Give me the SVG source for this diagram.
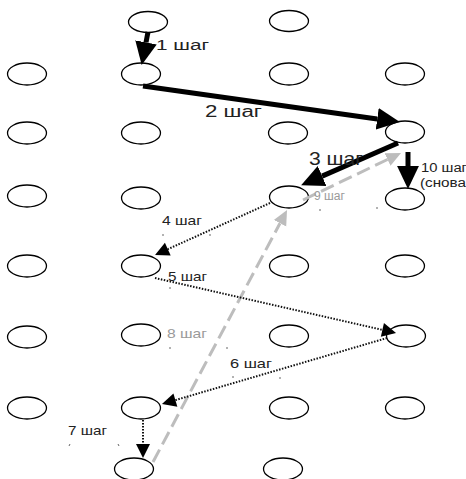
<svg xmlns="http://www.w3.org/2000/svg" width="466" height="479" viewBox="0 0 466 479">
  <style>
    .node ellipse { fill: #fff; stroke: #000; stroke-width: 1.3; }
    .thick { stroke: #000; stroke-width: 5; fill: none; }
    .dot { stroke: #111; stroke-width: 2; stroke-dasharray: 1.5 1.5; fill: none; }
    .dash { stroke: #bdbdbd; stroke-width: 3; stroke-dasharray: 14 6; fill: none; }
    .lbl { font-family: "Liberation Sans", Arial, sans-serif; fill: #222; }
    .grey { fill: #9a9a9a; }
    .tick { stroke: #666; stroke-width: 1; }
  </style>
  <defs>
    <marker id="headBig" markerUnits="userSpaceOnUse" markerWidth="24" markerHeight="24" viewBox="0 -11 22 22" refX="0" refY="0" orient="auto">
      <path d="M0,-10 L21,0 L0,10 Z" fill="#000"/>
    </marker>
    <marker id="headSmall" markerUnits="userSpaceOnUse" markerWidth="16" markerHeight="16" viewBox="0 -8 15 16" refX="0" refY="0" orient="auto">
      <path d="M0,-7 L14,0 L0,7 Z" fill="#000"/>
    </marker>
    <marker id="headGrey" markerUnits="userSpaceOnUse" markerWidth="16" markerHeight="16" viewBox="0 -8 16 16" refX="0" refY="0" orient="auto">
      <path d="M0,-7 L15,0 L0,7 Z" fill="#bdbdbd"/>
    </marker>
  </defs>

  <!-- grid of points -->
  <g id="n-top-1" class="node"><ellipse cx="148" cy="22" rx="19.5" ry="10.5"/></g>
  <g id="n-top-2" class="node"><ellipse cx="289" cy="21" rx="19.5" ry="10.5"/></g>

  <g id="n-1-1" class="node"><ellipse cx="27" cy="74" rx="19.5" ry="11"/></g>
  <g id="n-1-2" class="node"><ellipse cx="141" cy="74" rx="19.5" ry="11"/></g>
  <g id="n-1-3" class="node"><ellipse cx="289" cy="74" rx="19.5" ry="11"/></g>
  <g id="n-1-4" class="node"><ellipse cx="405" cy="74" rx="19.5" ry="11"/></g>

  <g id="n-2-1" class="node"><ellipse cx="27" cy="133" rx="19.5" ry="11"/></g>
  <g id="n-2-2" class="node"><ellipse cx="141" cy="133" rx="19.5" ry="11"/></g>
  <g id="n-2-3" class="node"><ellipse cx="288" cy="133" rx="19.5" ry="11"/></g>
  <g id="n-2-4" class="node"><ellipse cx="405" cy="132" rx="19.5" ry="11"/></g>

  <g id="n-3-1" class="node"><ellipse cx="27" cy="196" rx="19.5" ry="11"/></g>
  <g id="n-3-2" class="node"><ellipse cx="141" cy="198" rx="19.5" ry="11"/></g>
  <g id="n-3-3" class="node"><ellipse cx="289" cy="197" rx="19.5" ry="11"/></g>
  <g id="n-3-4" class="node"><ellipse cx="405" cy="199" rx="19.5" ry="11"/></g>

  <g id="n-4-1" class="node"><ellipse cx="27" cy="266" rx="19.5" ry="11"/></g>
  <g id="n-4-2" class="node"><ellipse cx="141" cy="266" rx="19.5" ry="11"/></g>
  <g id="n-4-3" class="node"><ellipse cx="289" cy="266" rx="19.5" ry="11"/></g>
  <g id="n-4-4" class="node"><ellipse cx="405" cy="266" rx="19.5" ry="11"/></g>

  <g id="n-5-1" class="node"><ellipse cx="27" cy="337" rx="19.5" ry="11"/></g>
  <g id="n-5-2" class="node"><ellipse cx="141" cy="335" rx="19.5" ry="11"/></g>
  <g id="n-5-3" class="node"><ellipse cx="289" cy="336" rx="19.5" ry="11"/></g>
  <g id="n-5-4" class="node"><ellipse cx="406" cy="336" rx="19.5" ry="11"/></g>

  <g id="n-6-1" class="node"><ellipse cx="27" cy="408" rx="19.5" ry="11"/></g>
  <g id="n-6-2" class="node"><ellipse cx="141" cy="408" rx="19.5" ry="11"/></g>
  <g id="n-6-3" class="node"><ellipse cx="289" cy="408" rx="19.5" ry="11"/></g>
  <g id="n-6-4" class="node"><ellipse cx="405" cy="408" rx="19.5" ry="11"/></g>

  <g id="n-bot-1" class="node"><ellipse cx="134" cy="469" rx="19.5" ry="11"/></g>
  <g id="n-bot-2" class="node"><ellipse cx="283" cy="469" rx="19.5" ry="11"/></g>

  <!-- moves -->
  <g id="connectors">
    <line class="dash" x1="153" y1="462" x2="280" y2="223.2" marker-end="url(#headGrey)"/>
    <line class="dash" x1="303" y1="200" x2="387.5" y2="159.5" marker-end="url(#headGrey)"/>

    <line class="thick" x1="148" y1="32" x2="146" y2="42.4" marker-end="url(#headBig)"/>
    <line class="thick" x1="143" y1="86" x2="377.2" y2="118.9" marker-end="url(#headBig)"/>
    <line class="thick" x1="398" y1="143" x2="322.1" y2="176.1" marker-end="url(#headBig)"/>
    <line class="thick" x1="408" y1="152" x2="408" y2="166" marker-end="url(#headBig)"/>

    <line class="dot" x1="270" y1="203" x2="167.8" y2="249.2" marker-end="url(#headSmall)"/>
    <line class="dot" x1="155" y1="278" x2="382.4" y2="329.9" marker-end="url(#headSmall)"/>
    <line class="dot" x1="387" y1="338" x2="175.4" y2="400.1" marker-end="url(#headSmall)"/>
    <line class="dot" x1="143" y1="420" x2="143" y2="444" marker-end="url(#headSmall)"/>
  </g>

  <!-- step labels -->
  <g id="labels">
    <text class="lbl" x="156" y="50" font-size="14" textLength="53" lengthAdjust="spacingAndGlyphs">1 шаг</text>
    <text class="lbl" x="205" y="117" font-size="16" textLength="57" lengthAdjust="spacingAndGlyphs">2 шаг</text>
    <text class="lbl" x="309" y="165" font-size="19" textLength="54" lengthAdjust="spacingAndGlyphs">3 шаг</text>
    <text class="lbl" x="421" y="172" font-size="12" textLength="46" lengthAdjust="spacingAndGlyphs">10 шаг</text>
    <text class="lbl" x="420" y="187" font-size="12" textLength="46" lengthAdjust="spacingAndGlyphs">(снова</text>
    <text class="lbl" x="162" y="225" font-size="13" textLength="40" lengthAdjust="spacingAndGlyphs">4 шаг</text>
    <text class="lbl" x="168" y="281" font-size="13" textLength="39" lengthAdjust="spacingAndGlyphs">5 шаг</text>
    <text class="lbl" x="230" y="368" font-size="13" textLength="42" lengthAdjust="spacingAndGlyphs">6 шаг</text>
    <text class="lbl" x="68" y="435" font-size="13" textLength="39" lengthAdjust="spacingAndGlyphs">7 шаг</text>
    <text class="lbl grey" x="167" y="338" font-size="13" textLength="40" lengthAdjust="spacingAndGlyphs">8 шаг</text>
    <text class="lbl grey" x="314" y="200" font-size="12" textLength="31" lengthAdjust="spacingAndGlyphs">9 шаг</text>
  </g>

  <!-- small marks left under the labels -->
  <g id="marks">
    <line class="tick" x1="163" y1="234" x2="163" y2="236"/>
    <line class="tick" x1="210" y1="234" x2="210" y2="236"/>
    <line class="tick" x1="170" y1="287" x2="170" y2="289"/>
    <line class="tick" x1="170" y1="347" x2="170" y2="349"/>
    <line class="tick" x1="227" y1="347" x2="227" y2="349"/>
    <line class="tick" x1="233" y1="376" x2="233" y2="378"/>
    <line class="tick" x1="280" y1="377" x2="280" y2="379"/>
    <line class="tick" x1="320" y1="209" x2="320" y2="211"/>
    <line class="tick" x1="377" y1="207" x2="377" y2="209"/>
    <line class="tick" x1="70" y1="444" x2="69" y2="446"/>
    <line class="tick" x1="118" y1="444" x2="119" y2="446"/>
  </g>
</svg>
